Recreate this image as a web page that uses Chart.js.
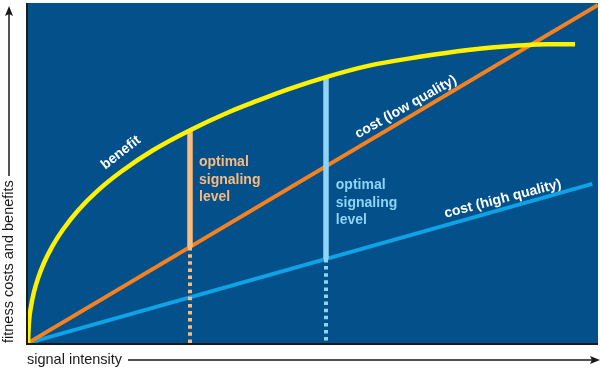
<!doctype html>
<html>
<head>
	<title>Optimal signaling level</title>
	<script src="https://cdn.jsdelivr.net/npm/chart.js@4.4.1/dist/chart.umd.min.js"></script>
	<style>
		body { margin: 0; background: #fff; }
		#wrap { width: 600px; height: 368px; position: relative; }
	</style>
</head>
<body>
	<div id="wrap"><canvas id="canvas"></canvas></div>
	<script>
		// signal intensity (0-100) vs fitness costs and benefits (0-100)
		var benefitX = [0, 0.18, 0.53, 1.05, 1.75, 2.81, 4.21, 6.14, 8.77, 12.28, 16.49, 21.93, 28.42, 35.09, 40.18, 45.61, 52.28, 59.65, 68.42, 77.19, 85.96, 91.23, 95.96];
		var benefitY = [0, 6.3, 10.8, 15.0, 19.0, 23.6, 28.3, 33.4, 39.0, 44.9, 50.6, 56.7, 62.6, 67.8, 71.2, 74.6, 78.2, 81.5, 84.1, 86.2, 87.5, 87.9, 87.9];
		var lowCostX = [0, 100];
		var lowCostY = [0, 99.4];
		var highCostX = [0, 99];
		var highCostY = [0, 46.8];

		// optimal levels: x, benefit at x, cost at x
		var optimalX = [28.42, 52.28];
		var optimalTop = [62.6, 78.2];
		var optimalCost = [28.2, 24.7];

		var bgBlue = '#03508b';
		var yellow = '#fff200';
		var orange = '#f58220';
		var blue = '#0ea2e6';
		var paleOrange = '#f9bc7e';
		var paleBlue = '#8fd3f7';

		function pts(xs, ys) {
			var out = [];
			xs.forEach(function (x, i) { out.push({ x: x, y: ys[i] }); });
			return out;
		}

		var datasets = [{
			label: 'benefit',
			data: pts(benefitX, benefitY),
			borderColor: yellow,
			borderWidth: 4.5,
			cubicInterpolationMode: 'monotone'
		}];
		var pillarColors = [paleOrange, paleBlue];
		optimalX.forEach(function (x, i) {
			datasets.push({
				label: 'optimal ' + i,
				data: [{ x: x, y: optimalTop[i] }, { x: x, y: optimalCost[i] }],
				borderColor: pillarColors[i],
				borderWidth: 5.5
			});
			datasets.push({
				label: 'optimal dotted ' + i,
				data: [{ x: x, y: optimalCost[i] }, { x: x, y: 0 }],
				borderColor: pillarColors[i],
				borderWidth: 4,
				borderDash: [3.5, 3.6]
			});
		});
		datasets.push({
			label: 'cost (low quality)',
			data: pts(lowCostX, lowCostY),
			borderColor: orange,
			borderWidth: 4
		});
		datasets.push({
			label: 'cost (high quality)',
			data: pts(highCostX, highCostY),
			borderColor: blue,
			borderWidth: 4
		});

		function drawRotated(ctx, text, x, y, deg, color) {
			ctx.save();
			ctx.translate(x, y);
			ctx.rotate(deg * Math.PI / 180);
			ctx.fillStyle = color;
			ctx.textAlign = 'center';
			ctx.textBaseline = 'middle';
			ctx.fillText(text, 0, 0);
			ctx.restore();
		}

		var decor = {
			id: 'decor',
			beforeDraw: function (chart) {
				var ctx = chart.ctx, a = chart.chartArea;
				ctx.save();
				ctx.fillStyle = bgBlue;
				ctx.fillRect(a.left - 2, a.top, a.right - a.left + 2, a.bottom - a.top + 2);
				ctx.restore();
			},
			afterDatasetsDraw: function (chart) {
				var ctx = chart.ctx, a = chart.chartArea;
				var xs = chart.scales.x, ys = chart.scales.y;
				ctx.save();
				// axis lines
				ctx.strokeStyle = '#1a1a1a';
				ctx.lineWidth = 2;
				ctx.beginPath();
				ctx.moveTo(a.left - 1, a.top);
				ctx.lineTo(a.left - 1, a.bottom + 1);
				ctx.lineTo(a.right, a.bottom + 1);
				ctx.stroke();

				// curve labels
				ctx.font = 'bold 14px "Liberation Sans", Arial, sans-serif';
				drawRotated(ctx, 'benefit', xs.getPixelForValue(16.3), ys.getPixelForValue(56), -38, '#fff');
				drawRotated(ctx, 'cost (low quality)', xs.getPixelForValue(66.3), ys.getPixelForValue(69.4), -29.5, '#fff');
				drawRotated(ctx, 'cost (high quality)', xs.getPixelForValue(83.3), ys.getPixelForValue(42.4), -14.5, '#fff');

				// optimal signaling level notes
				var lines = ['optimal', 'signaling', 'level'];
				var noteX = [30, 54];
				var noteY = [[53.2, 47.9, 42.9], [46.5, 41.2, 36.2]];
				ctx.textAlign = 'left';
				ctx.textBaseline = 'middle';
				noteX.forEach(function (nx, i) {
					ctx.fillStyle = pillarColors[i];
					lines.forEach(function (t, j) {
						ctx.fillText(t, xs.getPixelForValue(nx), ys.getPixelForValue(noteY[i][j]));
					});
				});

				// axis titles with arrows
				ctx.font = '14.5px "Liberation Sans", Arial, sans-serif';
				ctx.fillStyle = '#1a1a1a';
				ctx.textBaseline = 'alphabetic';
				ctx.fillText('signal intensity', 27, 364);
				ctx.save();
				ctx.translate(12.5, 343);
				ctx.rotate(-Math.PI / 2);
				ctx.fillText('fitness costs and benefits', 0, 0);
				ctx.restore();

				ctx.strokeStyle = '#1a1a1a';
				ctx.lineWidth = 1.5;
				ctx.beginPath();
				ctx.moveTo(128, 360);
				ctx.lineTo(594, 360);
				ctx.moveTo(9, 176);
				ctx.lineTo(9, 12);
				ctx.stroke();
				ctx.beginPath();
				ctx.moveTo(600, 360);
				ctx.lineTo(590, 356);
				ctx.lineTo(592, 360);
				ctx.lineTo(590, 364);
				ctx.closePath();
				ctx.moveTo(9, 6);
				ctx.lineTo(5, 16);
				ctx.lineTo(9, 14);
				ctx.lineTo(13, 16);
				ctx.closePath();
				ctx.fill();
				ctx.restore();
			}
		};

		new Chart(document.getElementById('canvas'), {
			type: 'line',
			data: { datasets: datasets },
			options: {
				responsive: true,
				maintainAspectRatio: false,
				animation: false,
				layout: { padding: { left: 28, right: 2, top: 3, bottom: 25 } },
				elements: { point: { radius: 0 }, line: { tension: 0 } },
				plugins: { legend: { display: false }, tooltip: { enabled: false } },
				scales: {
					x: { type: 'linear', min: 0, max: 100, display: false },
					y: { type: 'linear', min: 0, max: 100, display: false }
				}
			},
			plugins: [decor]
		});
	</script>
</body>
</html>
